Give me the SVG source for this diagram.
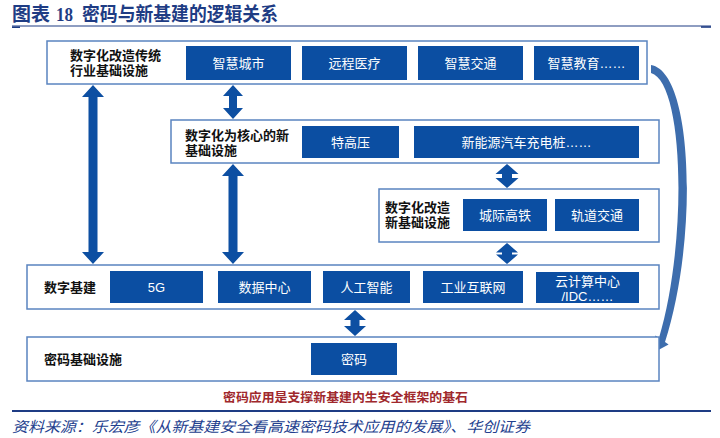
<svg xmlns="http://www.w3.org/2000/svg" width="720" height="438" viewBox="0 0 720 438">
<style>
.bg{fill:#ffffff}
.box{fill:#ffffff;stroke:#5A84C0;stroke-width:1.5}
.chip{fill:#0B4EA2}
.arr{fill:#0D4FA2}
.lbl{font-family:"Liberation Sans","Noto Sans CJK SC",sans-serif;font-size:13px;font-weight:bold;fill:#111111;dominant-baseline:central}
.ct{font-family:"Liberation Sans","Noto Sans CJK SC",sans-serif;font-size:13px;fill:#ffffff;text-anchor:middle;dominant-baseline:central}
.title{font-family:"Liberation Serif","Noto Sans CJK SC",serif;font-size:19px;font-weight:bold;fill:#1E3C84}
.note{font-family:"Liberation Sans","Noto Sans CJK SC",sans-serif;font-size:12.5px;font-weight:bold;fill:#A0282C;text-anchor:middle;dominant-baseline:central}
.src{font-family:"Liberation Serif","Noto Sans CJK SC",serif;font-size:14.5px;font-style:italic;fill:#23408E;dominant-baseline:central}
.rule{stroke:#1E3C84}
</style>
<rect class="bg" x="0" y="0" width="720" height="438"/>
<g id="header">
<text class="title" x="12" y="21" textLength="38" lengthAdjust="spacingAndGlyphs">图表</text>
<text class="title" x="56" y="21" textLength="17" lengthAdjust="spacingAndGlyphs">18</text>
<text class="title" x="82" y="21" textLength="196" lengthAdjust="spacingAndGlyphs">密码与新基建的逻辑关系</text>
<line class="rule" x1="12" y1="26" x2="711" y2="26" stroke-width="1.2"/>
<line class="rule" x1="12" y1="27.2" x2="20" y2="27.2" stroke-width="1.6"/>
<line class="rule" x1="701" y1="27" x2="711" y2="27" stroke-width="1.6"/>
</g>
<g id="connectors">
<polygon class="arr" points="93,85 104,97 97.5,97 97.5,252 104,252 93,264 82,252 88.5,252 88.5,97 82,97"/>
<polygon class="arr" points="233,85 243,96 237,96 237,108 243,108 233,119 223,108 229,108 229,96 223,96"/>
<polygon class="arr" points="233,164 244,176 237.5,176 237.5,252 244,252 233,264 222,252 228.5,252 228.5,176 222,176"/>
<polygon class="arr" points="507,164 518.5,174 512,174 512,178 518.5,178 507,188 495.5,178 502,178 502,174 495.5,174"/>
<polygon class="arr" points="507,243 518,252.5 512,252.5 512,254.5 518,254.5 507,264 496,254.5 502,254.5 502,252.5 496,252.5"/>
<polygon class="arr" points="355,310 366,320 359.5,320 359.5,326 366,326 355,336 344,326 350.5,326 350.5,320 344,320"/>
<path fill="#3D6DAD" d="M651,65 C694,72 698,240 665,342 L668.6,344.4 L653.7,352.5 L655.4,335.6 L659,338 C688,240 684,82 651,73 Z"/>
</g>
<g id="n-trad">
<rect class="box" x="47" y="41" width="600" height="43"/>
<text class="lbl" x="70" y="55.5">数字化改造传统</text>
<text class="lbl" x="70" y="70.5">行业基础设施</text>
<rect class="chip" x="186" y="46" width="105" height="34"/>
<text class="ct" x="238.5" y="63">智慧城市</text>
<rect class="chip" x="302" y="46" width="105" height="34"/>
<text class="ct" x="354.5" y="63">远程医疗</text>
<rect class="chip" x="418" y="46" width="105" height="34"/>
<text class="ct" x="470.5" y="63">智慧交通</text>
<rect class="chip" x="534" y="46" width="105" height="34"/>
<text class="ct" x="586.5" y="63">智慧教育……</text>
</g>
<g id="n-core">
<rect class="box" x="171" y="120" width="488" height="43"/>
<text class="lbl" x="185" y="135">数字化为核心的新</text>
<text class="lbl" x="185" y="150">基础设施</text>
<rect class="chip" x="302" y="126" width="97" height="32"/>
<text class="ct" x="350.5" y="142">特高压</text>
<rect class="chip" x="414" y="126" width="225" height="32"/>
<text class="ct" x="526.5" y="142">新能源汽车充电桩……</text>
</g>
<g id="n-reform">
<rect class="box" x="379" y="189" width="280" height="53"/>
<text class="lbl" x="385" y="207">数字化改造</text>
<text class="lbl" x="385" y="222">新基础设施</text>
<rect class="chip" x="463" y="199" width="84" height="32"/>
<text class="ct" x="505" y="215">城际高铁</text>
<rect class="chip" x="555" y="199" width="84" height="32"/>
<text class="ct" x="597" y="215">轨道交通</text>
</g>
<g id="n-digital">
<rect class="box" x="27" y="265" width="632" height="44"/>
<text class="lbl" x="44" y="287">数字基建</text>
<rect class="chip" x="110" y="271" width="93" height="32"/>
<text class="ct" x="156.5" y="287">5G</text>
<rect class="chip" x="218" y="271" width="93" height="32"/>
<text class="ct" x="264.5" y="287">数据中心</text>
<rect class="chip" x="323" y="271" width="87" height="32"/>
<text class="ct" x="366.5" y="287">人工智能</text>
<rect class="chip" x="423" y="271" width="100" height="32"/>
<text class="ct" x="473" y="287">工业互联网</text>
<rect class="chip" x="536" y="272" width="103" height="31"/>
<text class="ct" x="587.5" y="281">云计算中心</text>
<text class="ct" x="587.5" y="296">/IDC……</text>
</g>
<g id="n-crypto">
<rect class="box" x="27" y="337" width="632" height="44"/>
<text class="lbl" x="44" y="359">密码基础设施</text>
<rect class="chip" x="311" y="343" width="86" height="32"/>
<text class="ct" x="354" y="359">密码</text>
</g>
<g id="footer">
<text class="note" x="345.5" y="398" textLength="245" lengthAdjust="spacingAndGlyphs">密码应用是支撑新基建内生安全框架的基石</text>
<line class="rule" x1="12" y1="411" x2="711" y2="411" stroke-width="2"/>
<text class="src" x="12" y="427" textLength="518" lengthAdjust="spacingAndGlyphs">资料来源：乐宏彦《从新基建安全看高速密码技术应用的发展》、华创证券</text>
</g>
</svg>
